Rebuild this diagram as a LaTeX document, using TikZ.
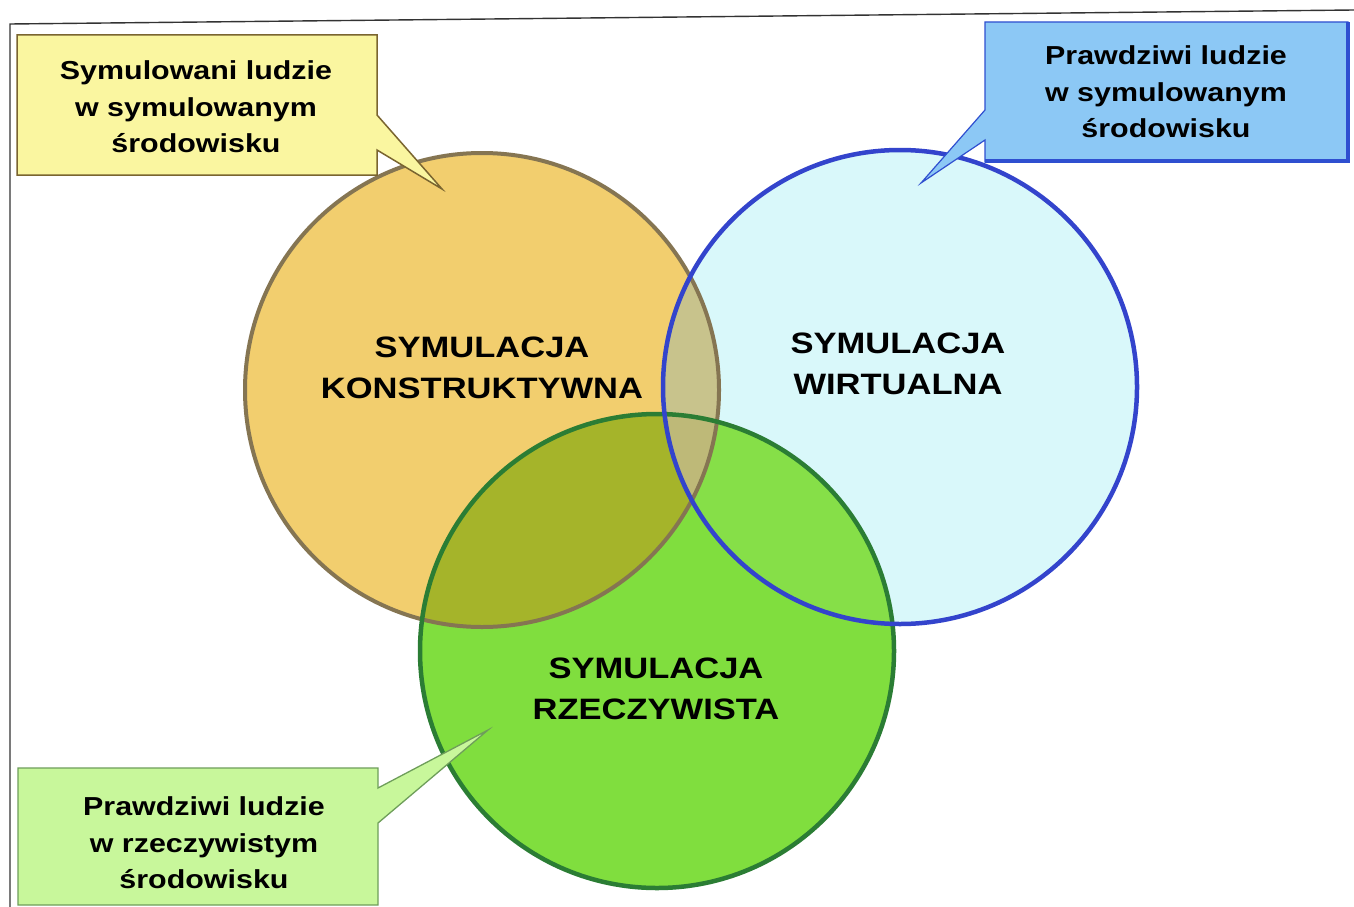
\documentclass[tikz,border=0pt]{standalone}
\usepackage{fontspec}
\newfontfamily\labfont[FakeStretch=1.17]{Liberation Sans}
\usetikzlibrary{calc}
\pgfdeclarelayer{circles}
\pgfdeclarelayer{boxes}
\pgfsetlayers{circles,boxes,main}

% circle fills and their overlaps
\definecolor{kFill}{HTML}{F2CE6E}
\definecolor{wFill}{HTML}{D9F8FA}
\definecolor{rFill}{HTML}{80DE3E}
\definecolor{kwFill}{HTML}{C8C38C}
\definecolor{krFill}{HTML}{A5B42A}
\definecolor{wrFill}{HTML}{86DF48}
\definecolor{kwrFill}{HTML}{BEB978}
% circle outlines
\definecolor{kLine}{HTML}{857552}
\definecolor{wLine}{HTML}{3344CC}
\definecolor{rLine}{HTML}{2B7D34}
% speech boxes
\definecolor{ySay}{HTML}{FAF6A0}
\definecolor{ySayLine}{HTML}{7A6530}
\definecolor{bSay}{HTML}{8CC8F5}
\definecolor{bSayLine}{HTML}{2F4FD0}
\definecolor{gSay}{HTML}{C8F79B}
\definecolor{gSayLine}{HTML}{6E9E5A}
\definecolor{frameGray}{HTML}{333333}

\begin{document}
\begin{tikzpicture}[x=1pt,y=-1pt,
  circlabel/.style={align=center,inner sep=0pt,text=black,
    font=\labfont\bfseries\fontsize{29.5}{41}\selectfont},
  saytext/.style={align=center,inner sep=0pt,text=black,
    font=\labfont\bfseries\fontsize{26}{36.5}\selectfont},
  frameline/.style={draw=frameGray,line width=1.4pt},
]
\useasboundingbox (0,0) rectangle (1354,907);

\coordinate (cK) at (482,390);
\coordinate (cW) at (900,387);
\coordinate (cR) at (657,651);
\def\rad{237pt}

\begin{pgfonlayer}{circles}
  \fill[white] (0,0) rectangle (1354,907);
  \draw[frameline] (10,907) -- (10,24) -- (1354,10);

  % base fills
  \fill[kFill] (cK) circle[radius=\rad];
  \fill[wFill] (cW) circle[radius=\rad];
  \fill[rFill] (cR) circle[radius=\rad];
  % pairwise overlaps
  \begin{scope}
    \clip (cK) circle[radius=\rad];
    \fill[kwFill] (cW) circle[radius=\rad];
    \fill[krFill] (cR) circle[radius=\rad];
  \end{scope}
  \begin{scope}
    \clip (cW) circle[radius=\rad];
    \fill[wrFill] (cR) circle[radius=\rad];
  \end{scope}
  % triple overlap
  \begin{scope}
    \clip (cK) circle[radius=\rad];
    \clip (cW) circle[radius=\rad];
    \fill[kwrFill] (cR) circle[radius=\rad];
  \end{scope}
  % outlines
  \draw[kLine,line width=4pt] (cK) circle[radius=\rad];
  \draw[rLine,line width=4.5pt] (cR) circle[radius=\rad];
  \draw[wLine,line width=4.5pt] (cW) circle[radius=\rad];
\end{pgfonlayer}

% labels inside the circles
\node[circlabel] (lK) at (482,368) {SYMULACJA\\KONSTRUKTYWNA};
\node[circlabel] (lW) at (898,364) {SYMULACJA\\WIRTUALNA};
\node[circlabel] (lR) at (656,689) {SYMULACJA\\RZECZYWISTA};

% speech boxes
\coordinate (pY) at (442,189);
\coordinate (pW) at (921,183);
\coordinate (pR) at (488,730);

\node[saytext] (tY) at (196,107) {Symulowani ludzie\\w symulowanym\\środowisku};
\node[saytext] (tW) at (1166,92) {Prawdziwi ludzie\\w symulowanym\\środowisku};
\node[saytext] (tR) at (204,843) {Prawdziwi ludzie\\w rzeczywistym\\środowisku};

\begin{pgfonlayer}{boxes}
  \filldraw[fill=ySay,draw=ySayLine,line width=1.5pt,line join=miter]
    (17,35) -- (377,35) -- (377,115) -- (pY) -- (377,150) -- (377,175)
    -- (17,175) -- cycle;

  \filldraw[fill=bSay,draw=bSayLine,line width=1.2pt,line join=miter]
    (985,22) -- (1348,22) -- (1348,162) -- (985,162) -- (985,140)
    -- (pW) -- (985,110) -- cycle;
  \draw[bSayLine,line width=4pt] (985,161) -- (1348,161) -- (1348,22);

  \filldraw[fill=gSay,draw=gSayLine,line width=1.3pt,line join=miter]
    (18,768) -- (378,768) -- (378,788) -- (pR) -- (378,823) -- (378,905)
    -- (18,905) -- cycle;
\end{pgfonlayer}
\end{tikzpicture}
\end{document}
